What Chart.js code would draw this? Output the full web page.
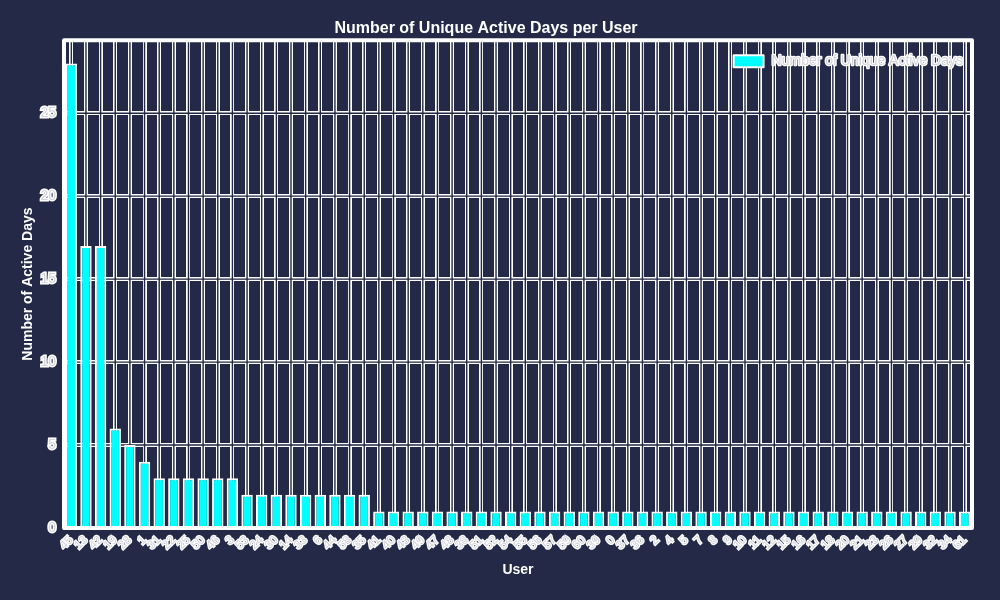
<!DOCTYPE html>
<html>
<head>
<meta charset="utf-8">
<script src="https://cdn.jsdelivr.net/npm/chart.js@4/dist/chart.umd.min.js"></script>
<style>
  html, body { margin: 0; padding: 0; background: #232946; }
  #wrap { width: 1000px; height: 600px; }
</style>
</head>
<body>
<div id="wrap"><canvas id="c" width="1000" height="600"></canvas></div>
<script>
// ---- data ----
const users = ['45','13','42','19','28','1','31','22','25','50','46','3','53','24','30','14','33','6','44','58',
  '35','41','40','43','49','47','48','38','51','52','54','55','56','57','59','60','39','0','37','36',
  '2','4','5','7','8','9','10','11','12','15','16','17','18','20','21','23','26','27','29','32','34','61'];
const activeDays = [28,17,17,6,5,4,3,3,3,3,3,3,
  2,2,2,2,2,2,2,2,2,
  1,1,1,1,1,1,1,1,1,1,1,1,1,1,1,1,1,1,1,1,1,1,1,1,1,1,1,1,1,1,1,1,1,1,1,1,1,1,1,1,1];
const yTicks = [0,5,10,15,20,25];
const yMax = 29.4;

const BG = '#232946';
const FONT = "'Liberation Sans', Arial, sans-serif";

const haloGrid = {
  id: 'haloGrid',
  beforeDatasetsDraw(chart) {
    const {ctx, chartArea: a, scales: {x, y}} = chart;
    ctx.save();
    ctx.strokeStyle = BG;
    ctx.lineWidth = 1.4;
    ctx.beginPath();
    x.ticks.forEach((t, i) => {
      const px = x.getPixelForTick(i);
      ctx.moveTo(px, a.top); ctx.lineTo(px, a.bottom);
    });
    y.ticks.forEach((t, i) => {
      const py = y.getPixelForTick(i);
      ctx.moveTo(a.left, py); ctx.lineTo(a.right, py);
    });
    ctx.stroke();
    ctx.restore();
  },
  afterDatasetsDraw(chart) {
    const {ctx, chartArea: a} = chart;
    ctx.save();
    ctx.strokeStyle = '#ffffff';
    ctx.lineWidth = 4;
    ctx.lineJoin = 'round';
    ctx.strokeRect(a.left, a.top, a.right - a.left, a.bottom - a.top);
    // legend (upper right, inside plot)
    const ds = chart.data.datasets[0];
    ctx.font = '14px ' + FONT;
    const label = ds.label;
    const tw = ctx.measureText(label).width;
    const textRight = a.right - 9;
    const textLeft = textRight - tw;
    const cy = a.top + 21;
    const boxW = 30, boxH = 12;
    const boxX = textLeft - 8 - boxW;
    ctx.fillStyle = ds.backgroundColor;
    ctx.strokeStyle = '#ffffff';
    ctx.lineWidth = 2;
    ctx.fillRect(boxX, cy - boxH / 2, boxW, boxH);
    ctx.strokeRect(boxX, cy - boxH / 2, boxW, boxH);
    ctx.textBaseline = 'middle';
    ctx.textAlign = 'left';
    ctx.lineWidth = 2.5;
    ctx.strokeStyle = '#ffffff';
    ctx.lineJoin = 'round';
    ctx.strokeText(label, textLeft, cy);
    ctx.fillStyle = '#d4d4dc';
    ctx.fillText(label, textLeft, cy);
    ctx.restore();
  }
};

new Chart(document.getElementById('c'), {
  type: 'bar',
  data: {
    labels: users,
    datasets: [{
      label: 'Number of Unique Active Days',
      data: activeDays,
      backgroundColor: '#00ffff',
      borderColor: '#ffffff',
      borderWidth: 2,
      barPercentage: 0.78,
      categoryPercentage: 1.0
    }]
  },
  options: {
    responsive: false,
    animation: false,
    layout: { padding: { top: 1, right: 28, left: 0, bottom: 0 } },
    plugins: {
      title: {
        display: true,
        text: 'Number of Unique Active Days per User',
        color: '#ffffff',
        font: { family: FONT, size: 16, weight: 'bold' },
        padding: { top: 18, bottom: 2 }
      },
      legend: { display: false },
      tooltip: { enabled: false }
    },
    scales: {
      x: {
        offset: true,
        grid: { color: '#ffffff', lineWidth: 4, drawTicks: false, offset: false },
        border: { display: false },
        ticks: {
          autoSkip: false,
          minRotation: 45,
          maxRotation: 45,
          padding: 5,
          color: '#d4d4dc',
          textStrokeColor: '#ffffff',
          textStrokeWidth: 2.5,
          font: { family: FONT, size: 12 }
        },
        title: {
          display: true,
          text: 'User',
          color: '#ffffff',
          font: { family: FONT, size: 14, weight: 'bold' },
          padding: { top: 0, bottom: 21 }
        },
        afterFit(s) { s.height = 72; }
      },
      y: {
        min: 0,
        max: yMax,
        afterBuildTicks(axis) { axis.ticks = yTicks.map(v => ({ value: v })); },
        grid: { color: '#ffffff', lineWidth: 4, drawTicks: false },
        border: { display: false },
        ticks: {
          padding: 8,
          color: '#d4d4dc',
          textStrokeColor: '#ffffff',
          textStrokeWidth: 3,
          font: { family: FONT, size: 14 }
        },
        title: {
          display: true,
          text: 'Number of Active Days',
          color: '#ffffff',
          font: { family: FONT, size: 14, weight: 'bold' },
          padding: { top: 20, bottom: 0 }
        },
        afterFit(s) { s.width = 64; }
      }
    }
  },
  plugins: [haloGrid]
});
</script>
</body>
</html>
